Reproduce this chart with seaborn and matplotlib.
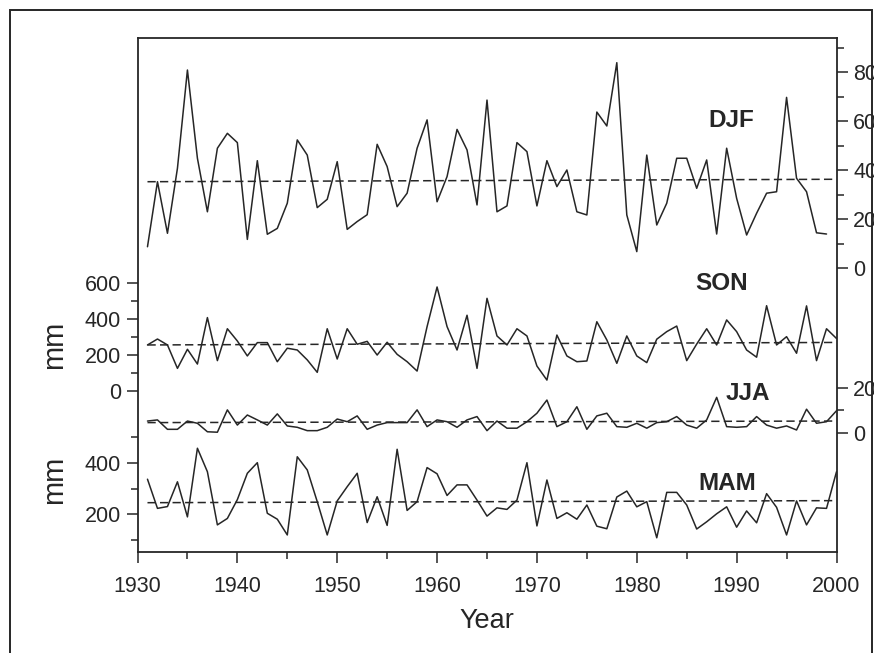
import matplotlib
matplotlib.use("Agg")
import matplotlib.pyplot as plt
import seaborn as sns
from matplotlib.ticker import FixedLocator, MultipleLocator
from matplotlib.patches import Rectangle

sns.set_theme(style="ticks")
plt.rcParams["font.family"] = ["Liberation Sans", "DejaVu Sans"]

# ---- seasonal precipitation series ----
years = list(range(1931, 2001))
years_djf = list(range(1931, 2000))

djf = [8.7, 35.3, 14.2, 40.8, 81.0, 44.9, 23.0, 49.0, 55.1, 51.3,
       11.7, 43.9, 13.8, 16.2, 26.5, 52.4, 46.2, 24.7, 28.1, 43.5,
       15.8, 19.0, 21.8, 50.6, 41.5, 25.1, 30.6, 49.0, 60.6, 27.1,
       37.4, 56.7, 48.3, 25.8, 68.7, 23.0, 25.4, 51.3, 47.6, 25.4,
       43.9, 33.3, 40.1, 23.0, 21.7, 63.8, 58.1, 84.0, 21.7, 6.7,
       46.2, 17.6, 26.5, 44.9, 44.9, 32.6, 44.2, 13.9, 49.0, 28.5,
       13.5, 22.4, 30.6, 31.2, 69.8, 36.7, 31.2, 14.4, 13.9]

son = [254, 287, 254, 124, 230, 148, 406, 167, 344, 276,
       193, 267, 267, 161, 236, 226, 171, 102, 344, 176,
       344, 258, 274, 198, 269, 202, 161, 109, 356, 576,
       356, 226, 419, 124, 513, 304, 254, 344, 304, 137,
       59, 309, 193, 161, 165, 383, 282, 152, 304, 193,
       156, 286, 328, 359, 167, 259, 344, 254, 393, 328,
       226, 186, 472, 254, 300, 208, 471, 167, 344, 290]

jja = [5.2, 5.7, 1.5, 1.5, 5.2, 4.2, 0.4, 0.2, 10.2, 3.4,
       7.9, 5.7, 3.4, 8.4, 3.0, 2.4, 0.9, 0.9, 2.4, 6.1,
       4.9, 7.5, 1.5, 3.4, 4.5, 4.5, 4.5, 10.2, 2.7, 5.7,
       4.9, 2.4, 5.7, 7.2, 0.9, 5.2, 2.0, 2.0, 4.9, 8.7,
       14.6, 2.7, 4.9, 11.6, 1.5, 7.5, 8.7, 2.7, 2.4, 4.2,
       2.0, 4.5, 4.9, 7.2, 3.4, 2.0, 5.7, 15.8, 2.7, 2.4,
       2.7, 7.2, 3.4, 2.0, 3.0, 1.2, 10.5, 4.2, 4.9, 9.8]

mam = [336, 223, 230, 326, 190, 456, 365, 159, 184, 257,
       359, 400, 204, 181, 120, 423, 372, 249, 120, 252,
       307, 359, 168, 268, 157, 452, 215, 249, 381, 357,
       273, 314, 314, 255, 193, 225, 219, 255, 400, 155,
       333, 184, 206, 181, 236, 154, 144, 267, 290, 229,
       249, 109, 285, 285, 236, 143, 171, 202, 229, 150,
       213, 167, 280, 227, 120, 252, 159, 225, 223, 365]

# linear trend end points (1931 and 2000)
trend_years = [1931, 2000]
djf_trend = [35.3, 36.3]
son_trend = [254, 268]
jja_trend = [4.5, 5.2]
mam_trend = [245, 253]

season_names = ["DJF", "SON", "JJA", "MAM"]
x_ticks = [1930, 1940, 1950, 1960, 1970, 1980, 1990, 2000]

# ---- figure layout (pixels) ----
W, H = 874, 653
L, R, T, B = 137.5, 836.5, 38, 552
ink = "#262626"

fig = plt.figure(figsize=(W / 100, H / 100), dpi=100)
rect = [L / W, 1 - B / H, (R - L) / W, (B - T) / H]


def fx(px):
    return px / W


def fy(py):
    return 1 - py / H


ax_djf = fig.add_axes(rect)
ax_son = fig.add_axes(rect, sharex=ax_djf)
ax_jja = fig.add_axes(rect, sharex=ax_djf)
ax_mam = fig.add_axes(rect, sharex=ax_djf)

for ax in (ax_son, ax_jja, ax_mam):
    ax.patch.set_visible(False)
    for sp in ax.spines.values():
        sp.set_visible(False)
    ax.tick_params(axis="x", which="both", bottom=False, top=False,
                   labelbottom=False, labeltop=False)

for sp in ax_djf.spines.values():
    sp.set_visible(True)
    sp.set_linewidth(1.3)
    sp.set_color(ink)


def style_y(ax, side, ylim, major, minor):
    ax.set_ylim(*ylim)
    ax.yaxis.set_major_locator(FixedLocator(major))
    ax.yaxis.set_minor_locator(FixedLocator(minor))
    if side == "right":
        ax.yaxis.tick_right()
    else:
        ax.yaxis.tick_left()
    ax.tick_params(axis="y", which="major", length=8, width=1.1,
                   direction="out", pad=4, labelsize=15.5,
                   colors=ink)
    ax.tick_params(axis="y", which="minor", length=5, width=1.1,
                   direction="out", colors=ink)


style_y(ax_djf, "right", (-116.2, 94.1), [0, 20, 40, 60, 80],
        [10, 30, 50, 70, 90])
style_y(ax_son, "left", (-896, 1959), [0, 200, 400, 600], [100, 300, 500])
style_y(ax_jja, "right", (-53.4, 176.6), [0, 20], [10])
style_y(ax_mam, "left", (53.9, 2046), [200, 400], [100, 300, 500])

# x axis
ax_djf.set_xlim(1930, 2000)
ax_djf.xaxis.set_major_locator(FixedLocator(x_ticks))
ax_djf.xaxis.set_minor_locator(MultipleLocator(5))
ax_djf.tick_params(axis="x", which="major", length=8, width=1.1,
                   direction="out", pad=9, labelsize=15.5, colors=ink,
                   top=False)
ax_djf.tick_params(axis="x", which="minor", length=5, width=1.1,
                   direction="out", top=False, colors=ink)

# series and trend lines
series = [
    (ax_djf, years_djf, djf, djf_trend),
    (ax_son, years, son, son_trend),
    (ax_jja, years, jja, jja_trend),
    (ax_mam, years, mam, mam_trend),
]
for ax, xs, ys, tr in series:
    sns.lineplot(x=xs, y=ys, ax=ax, color=ink, linewidth=1.1)
    sns.lineplot(x=trend_years, y=tr, ax=ax, color=ink, linewidth=1.1,
                 linestyle=(0, (5.4, 2.8)))
    ax.set_ylabel("")

ax_djf.set_xlabel("Year", fontsize=19.5, color=ink, labelpad=8)

# season captions
caption_pos = {"DJF": (731, 120.5), "SON": (722, 283),
               "JJA": (748, 393), "MAM": (727.5, 483)}
for name in season_names:
    px, py = caption_pos[name]
    fig.text(fx(px), fy(py), name, ha="center", va="center",
             fontsize=17.5, fontweight="bold", color=ink)

# unit labels on the left axis
for py in (345, 480):
    fig.text(fx(54), fy(py), "mm", rotation=90, ha="center", va="center",
             fontsize=21, color=ink)

# outer frame
fig.add_artist(Rectangle((fx(10), -0.05), fx(872) - fx(10), fy(10) + 0.05,
                         transform=fig.transFigure, fill=False,
                         lw=1.4, ec=ink))

fig.savefig("out.png", dpi=100)
